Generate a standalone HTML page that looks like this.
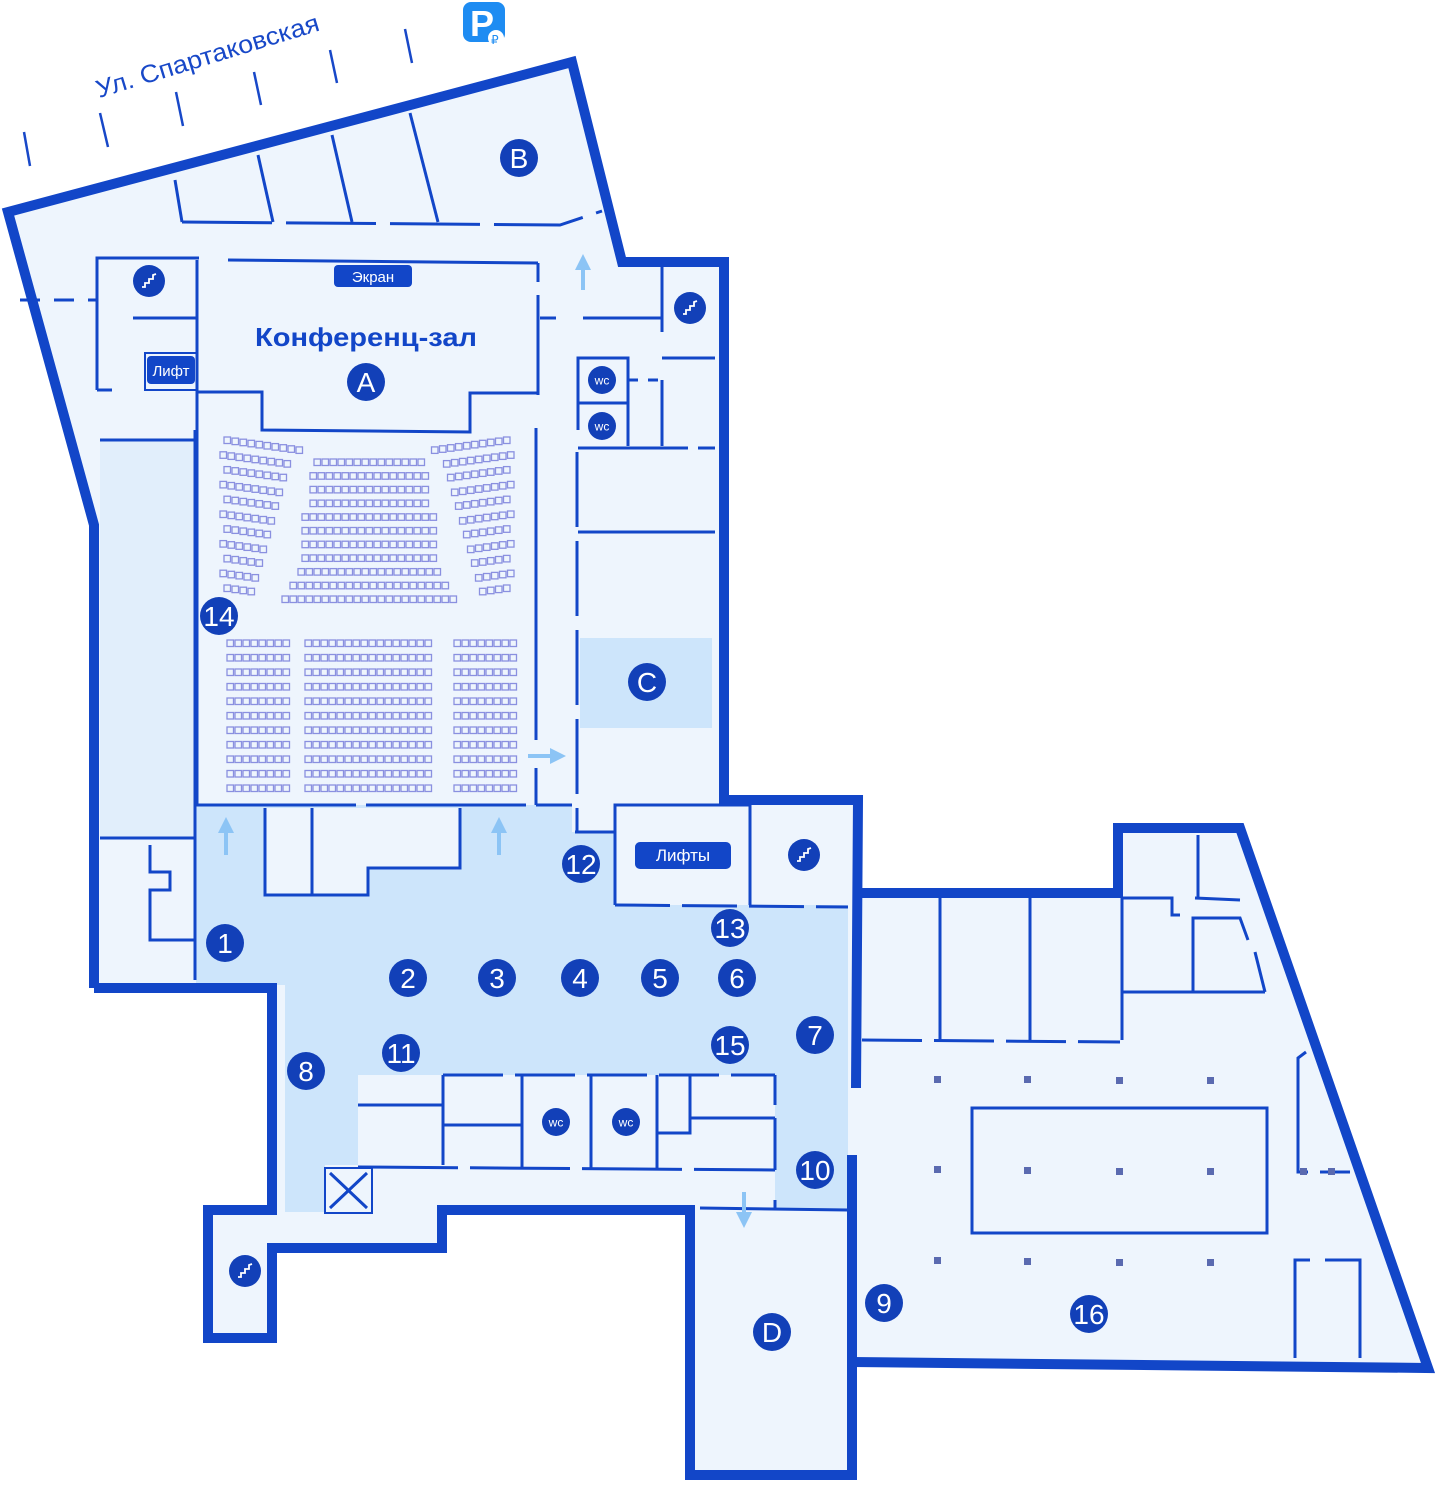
<!DOCTYPE html>
<html><head><meta charset="utf-8"><style>
html,body{margin:0;padding:0;background:#fff;}
svg{display:block;font-family:"Liberation Sans","DejaVu Sans",sans-serif;}
</style></head><body>
<svg id="s" width="1436" height="1504" viewBox="0 0 1436 1504" xmlns="http://www.w3.org/2000/svg">
<defs>
<marker id="ah" markerWidth="4" markerHeight="4" refX="2" refY="2" orient="auto" markerUnits="strokeWidth"><path d="M0,0 L4,2 L0,4 z" fill="#8cc4f5"/></marker>
</defs>
<!-- street -->
<g stroke="#1848c8" stroke-width="2.5">
<line x1="24" y1="132" x2="30" y2="166"/><line x1="100" y1="113" x2="108" y2="147"/>
<line x1="176" y1="92" x2="183" y2="126"/><line x1="254" y1="72" x2="261" y2="105"/>
<line x1="330" y1="50" x2="337" y2="83"/><line x1="405" y1="29" x2="412" y2="63"/>
</g>
<text x="0" y="0" font-size="25" fill="#1848c8" transform="translate(99,98) rotate(-17)" textLength="232" lengthAdjust="spacingAndGlyphs">Ул. Спартаковская</text>
<rect x="463" y="2" width="42" height="40" rx="8" fill="#1e8cf2"/>
<text x="470" y="36" font-size="36" font-weight="bold" fill="#fff">P</text>
<circle cx="496" cy="38" r="8" fill="#fff"/><text x="491" y="44" font-size="12" fill="#1e8cf2">₽</text>

<!-- fills -->
<polygon points="8,212 572,62 622,262 724,262 724,800 858,800 852,1475 690,1475 690,1210 442,1210 442,1248 272,1248 272,1338 208,1338 208,1210 272,1210 272,988 94,988 94,525" fill="#eef5fd"/>
<polygon points="852,893 1118,893 1118,828 1240,828 1428,1368 852,1362" fill="#eef5fd"/>
<rect x="100" y="440" width="95" height="398" fill="#e1eefb"/>
<rect x="580" y="638" width="132" height="90" fill="#cde5fb"/>
<polygon points="196,805 572,805 572,832 615,832 615,905 848,905 848,1210 775,1210 775,1075 358,1075 358,1165 325,1165 325,1212 285,1212 285,985 196,985" fill="#cde5fb"/>
<rect x="265" y="808" width="103" height="87" fill="#eef5fd"/>
<polygon points="368,808 460,808 460,868 368,868" fill="#eef5fd"/>

<!-- outer walls -->
<g fill="none" stroke="#1246c8" stroke-width="10" stroke-linejoin="miter">
<polyline points="94,988 94,525 8,212 572,62 622,262 724,262 724,800 858,800 856,1088"/>
<polyline points="852,1155 852,1475 690,1475 690,1210 442,1210 442,1248 272,1248 272,1338 208,1338 208,1210 272,1210 272,988 94,988"/>
<polyline points="856,893 1118,893 1118,828 1240,828 1428,1368 852,1362"/>
</g>
<!-- internal walls -->
<g fill="none" stroke="#1246c8" stroke-width="3">
<line x1="175" y1="180" x2="182" y2="222"/><line x1="258" y1="155" x2="273" y2="222"/>
<line x1="332" y1="135" x2="352" y2="222"/><line x1="410" y1="113" x2="438" y2="222"/>
<polyline points="182,222 560,225 602,211" stroke-dasharray="90,14"/>
<line x1="228" y1="260" x2="538" y2="263"/>
<polyline points="538,263 538,282"/><polyline points="538,295 538,395"/>
<line x1="536" y1="428" x2="536" y2="740"/><line x1="536" y1="768" x2="536" y2="805"/>
<polyline points="197,260 197,805"/>
<polyline points="197,392 262,392 262,430 470,432 470,393 538,393"/>
<polyline points="97,390 97,258 199,258"/><line x1="97" y1="390" x2="112" y2="390"/>
<line x1="133" y1="318" x2="197" y2="318"/>
<rect x="145" y="353" width="52" height="37" fill="none" stroke-width="2"/>
<line x1="20" y1="300" x2="97" y2="300" stroke-dasharray="20,14"/>
<line x1="540" y1="318" x2="556" y2="318"/><line x1="583" y1="318" x2="662" y2="318"/>
<line x1="662" y1="262" x2="662" y2="332"/><line x1="662" y1="358" x2="715" y2="358"/>
<polyline points="578,430 578,358 628,358 628,446"/><line x1="578" y1="403" x2="628" y2="403"/>
<line x1="628" y1="380" x2="662" y2="380" stroke-dasharray="10,10"/><line x1="662" y1="380" x2="662" y2="446"/>
<line x1="578" y1="448" x2="715" y2="448" stroke-dasharray="110,10"/>
<line x1="578" y1="532" x2="715" y2="532"/>
<line x1="577" y1="452" x2="577" y2="832" stroke-dasharray="75,14"/>
<line x1="575" y1="832" x2="615" y2="832"/>
<polyline points="615,905 615,805 750,805"/><line x1="750" y1="805" x2="750" y2="905"/>
<line x1="615" y1="905" x2="848" y2="907" stroke-dasharray="55,12"/>
<line x1="196" y1="805" x2="572" y2="805" stroke-dasharray="160,10"/>
<polyline points="265,808 265,895 368,895 368,868 460,868 460,808"/><line x1="312" y1="808" x2="312" y2="895"/>
<line x1="195" y1="430" x2="195" y2="980"/><line x1="100" y1="440" x2="195" y2="440"/>
<line x1="100" y1="838" x2="195" y2="838"/>
<polyline points="150,845 150,872 170,872 170,890 150,890 150,940 195,940"/>
<line x1="443" y1="1075" x2="775" y2="1075" stroke-dasharray="60,12"/>
<line x1="443" y1="1075" x2="443" y2="1165"/><line x1="522" y1="1075" x2="522" y2="1168"/>
<line x1="591" y1="1075" x2="591" y2="1168"/><line x1="657" y1="1075" x2="657" y2="1168"/>
<polyline points="690,1075 690,1133 657,1133"/><line x1="775" y1="1075" x2="775" y2="1105"/>
<line x1="443" y1="1125" x2="522" y2="1125"/><line x1="690" y1="1118" x2="775" y2="1118"/>
<line x1="775" y1="1118" x2="775" y2="1170"/>
<line x1="358" y1="1105" x2="443" y2="1105"/>
<line x1="358" y1="1167" x2="775" y2="1170" stroke-dasharray="100,12"/>
<line x1="775" y1="1200" x2="775" y2="1210"/>
<rect x="325" y="1168" width="47" height="45" stroke-width="2"/>
<line x1="330" y1="1173" x2="367" y2="1208"/><line x1="367" y1="1173" x2="330" y2="1208"/>
<line x1="700" y1="1208" x2="848" y2="1210"/>
<line x1="862" y1="1040" x2="1120" y2="1042" stroke-dasharray="60,12"/>
<line x1="940" y1="898" x2="940" y2="1040"/><line x1="1030" y1="898" x2="1030" y2="1040"/>
<line x1="1122" y1="898" x2="1122" y2="1040"/>
<polyline points="1122,898 1172,898 1172,915 1180,915"/><line x1="1195" y1="898" x2="1240" y2="900"/>
<line x1="1198" y1="835" x2="1198" y2="898"/>
<line x1="1122" y1="992" x2="1265" y2="992"/>
<polyline points="1193,992 1193,918 1240,918 1248,940"/><line x1="1255" y1="952" x2="1265" y2="992"/>
<rect x="972" y="1108" width="295" height="125"/>
<polyline points="1306,1052 1298,1058 1298,1172 1308,1172"/><line x1="1320" y1="1172" x2="1350" y2="1172"/>
<polyline points="1295,1358 1295,1260 1310,1260"/><polyline points="1325,1260 1360,1260 1360,1358"/>
</g>
<g fill="#5a6ab0">
<rect x="934" y="1076" width="7" height="7"/><rect x="1024" y="1076" width="7" height="7"/><rect x="1116" y="1077" width="7" height="7"/><rect x="1207" y="1077" width="7" height="7"/>
<rect x="934" y="1166" width="7" height="7"/><rect x="1024" y="1167" width="7" height="7"/><rect x="1116" y="1168" width="7" height="7"/><rect x="1207" y="1168" width="7" height="7"/>
<rect x="934" y="1257" width="7" height="7"/><rect x="1024" y="1258" width="7" height="7"/><rect x="1116" y="1259" width="7" height="7"/><rect x="1207" y="1259" width="7" height="7"/>
<rect x="1300" y="1168" width="7" height="7"/><rect x="1328" y="1168" width="7" height="7"/>
</g>
<!-- seats -->
<g id="seats" fill="none" stroke="#8a90e0" stroke-width="1.3"></g>
<!-- arrows -->
<g stroke="#8cc4f5" stroke-width="4" marker-end="url(#ah)">
<line x1="583" y1="290" x2="583" y2="262"/><line x1="226" y1="855" x2="226" y2="825"/>
<line x1="499" y1="855" x2="499" y2="825"/><line x1="528" y1="756" x2="558" y2="756"/>
<line x1="744" y1="1192" x2="744" y2="1220"/>
</g>
<!-- tags -->
<rect x="334" y="265" width="78" height="22" rx="4" fill="#1246c8"/>
<text x="373" y="282" font-size="15" fill="#fff" text-anchor="middle">Экран</text>
<text x="366" y="346" font-size="26" font-weight="bold" fill="#1246c8" text-anchor="middle" textLength="222" lengthAdjust="spacingAndGlyphs">Конференц-зал</text>
<rect x="147" y="356" width="48" height="28" rx="4" fill="#1246c8"/>
<text x="171" y="376" font-size="15" fill="#fff" text-anchor="middle">Лифт</text>
<rect x="635" y="842" width="96" height="27" rx="5" fill="#1246c8"/>
<text x="683" y="861" font-size="17" fill="#fff" text-anchor="middle">Лифты</text>
<!-- markers -->
<g id="mk" fill="#1240b8"></g>
</svg>
<script>
var NS="http://www.w3.org/2000/svg";
var g=document.getElementById("seats");
function seat(x,y){var r=document.createElementNS(NS,"rect");r.setAttribute("x",x);r.setAttribute("y",y);r.setAttribute("width",6.5);r.setAttribute("height",6.5);g.appendChild(r);}
var i,j;
for(i=0;i<11;i++){var y=640+i*14.5;
 for(j=0;j<8;j++)seat(227+j*8,y);
 for(j=0;j<16;j++)seat(305+j*8,y);
 for(j=0;j<8;j++)seat(454+j*8,y);}
var mw=[14,15,15,15,17,17,17,17,18,20,22];
for(i=0;i<11;i++){var y=459+i*13.7,n=mw[i],w=n*8;for(j=0;j<n;j++)seat(370-w/2+j*8,y);}
var ln=[10,9,8,8,7,7,6,6,5,5,4];
for(i=0;i<11;i++){var y=437+i*14.8;var n=ln[i];
 for(j=0;j<n;j++)seat(222+(i%2?-2:2)+j*8,y+j*1.1);
 for(j=0;j<n;j++)seat(512-(i%2?-2:2)-6.5-j*8,y+j*1.1);}
var mk=document.getElementById("mk");
function c(x,y,r,t,fs){var e=document.createElementNS(NS,"circle");e.setAttribute("cx",x);e.setAttribute("cy",y);e.setAttribute("r",r);mk.appendChild(e);
 var tx=document.createElementNS(NS,"text");tx.setAttribute("x",x);tx.setAttribute("y",y+fs*0.36);tx.setAttribute("font-size",fs);tx.setAttribute("fill","#fff");tx.setAttribute("text-anchor","middle");tx.textContent=t;mk.appendChild(tx);}
[[519,158,"B"],[366,382,"A"],[647,682,"C"],[772,1332,"D"],[219,616,"14"],[581,864,"12"],[730,928,"13"],[225,943,"1"],[408,978,"2"],[497,978,"3"],[580,978,"4"],[660,978,"5"],[737,978,"6"],[815,1035,"7"],[730,1045,"15"],[401,1053,"11"],[306,1071,"8"],[815,1170,"10"],[884,1303,"9"],[1089,1314,"16"]].forEach(function(a){c(a[0],a[1],19,a[2],28);});
[[602,380],[602,426],[556,1122],[626,1122]].forEach(function(a){c(a[0],a[1],14,"wc",12);});
[[149,281],[690,308],[804,855],[245,1271]].forEach(function(a){c(a[0],a[1],16,"",10);
 var p=document.createElementNS(NS,"polyline");p.setAttribute("points",(a[0]-7)+","+(a[1]+6)+" "+(a[0]-4)+","+(a[1]+6)+" "+(a[0]-4)+","+(a[1]+2)+" "+(a[0])+","+(a[1]+2)+" "+a[0]+","+(a[1]-2)+" "+(a[0]+4)+","+(a[1]-2)+" "+(a[0]+4)+","+(a[1]-6)+" "+(a[0]+7)+","+(a[1]-7));
 p.setAttribute("fill","none");p.setAttribute("stroke","#fff");p.setAttribute("stroke-width","1.8");mk.appendChild(p);});
</script>
</body></html>
